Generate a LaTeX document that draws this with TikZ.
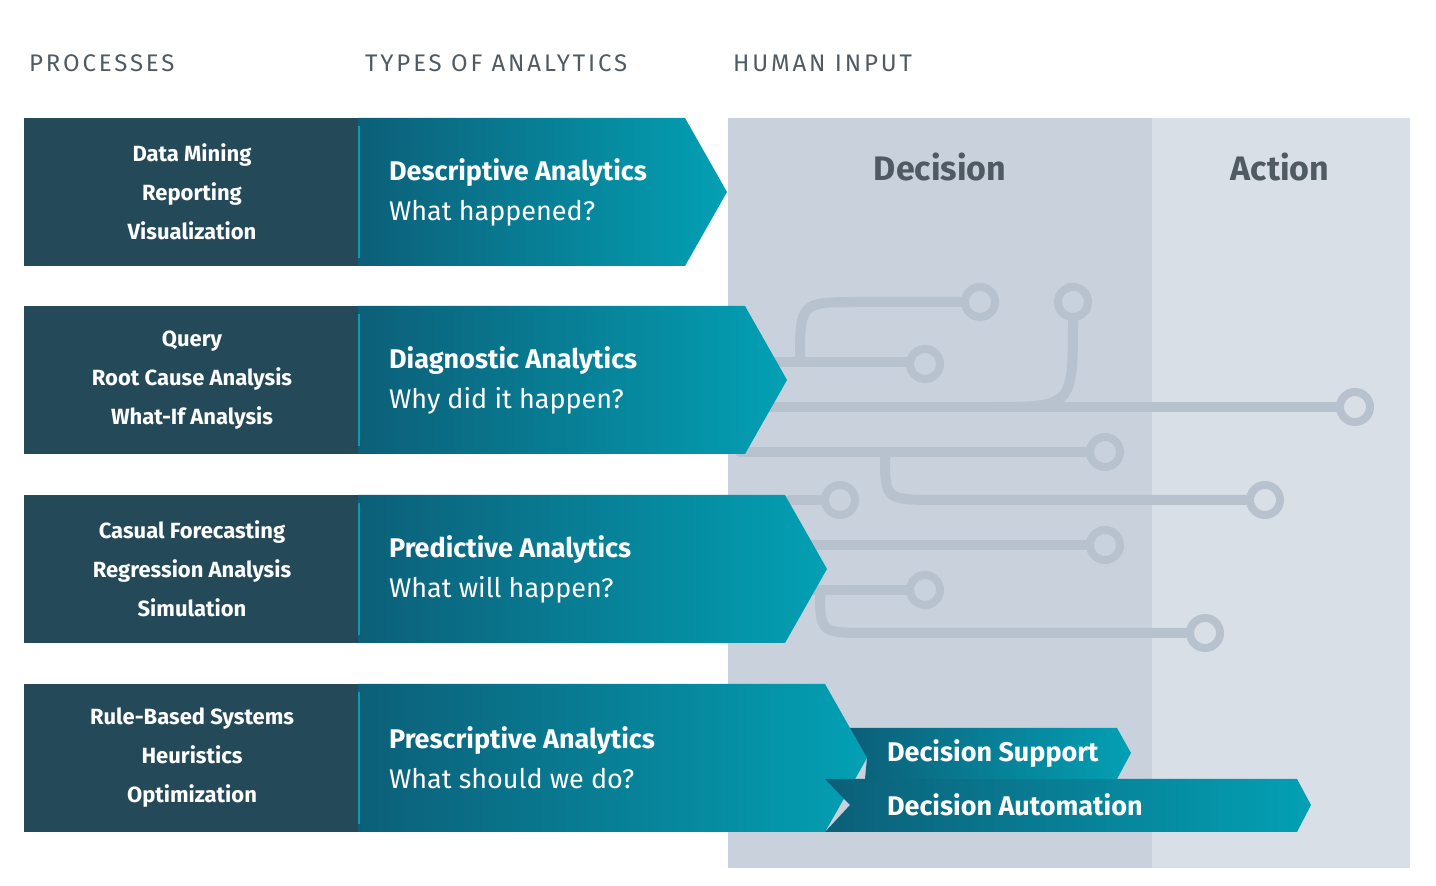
\documentclass[tikz,border=0pt]{standalone}
\usepackage{fontspec}
\setmainfont{Fira Sans}
\newfontfamily\headfont[LetterSpace=12]{Fira Sans}
\usetikzlibrary{positioning}
\definecolor{procbox}{HTML}{244A5A}
\definecolor{tealdark}{HTML}{0C5F78}
\definecolor{teallight}{HTML}{03A0B4}
\definecolor{decpanel}{HTML}{C8D1DC}
\definecolor{actpanel}{HTML}{D9DFE7}
\definecolor{circuit}{HTML}{B7C2CE}
\definecolor{headgray}{HTML}{4F5A63}
\tikzset{
  header/.style={anchor=west,text=headgray,font=\headfont\fontsize{12}{14}\selectfont},
  paneltitle/.style={text=headgray,font=\bfseries\fontsize{17}{20}\selectfont},
  proctext/.style={text=white,align=center,font=\bfseries\fontsize{11}{19.5}\selectfont},
  antext/.style={anchor=west,text=white,align=left,font=\fontsize{13.5}{20}\selectfont},
  wire/.style={circuit,line width=5pt,line cap=round},
  pin/.style={draw=circuit,line width=4pt,circle,minimum size=15pt,inner sep=0pt}
}
\begin{document}
\begin{tikzpicture}[x=0.5pt,y=-0.5pt]
\useasboundingbox (0,0) rectangle (1436,886);
% headers
\node[header] (hproc) at (22,63) {PROCESSES};
\node[header] (htype) at (358,63) {TYPES OF ANALYTICS};
\node[header] (hhum) at (726,63) {HUMAN INPUT};
% panels
\fill[decpanel] (728,118) rectangle (1152,868);
\fill[actpanel] (1152,118) rectangle (1410,868);
\node[paneltitle] (dec) at (940,167) {Decision};
\node[paneltitle] (act) at (1280,167) {Action};
% circuit traces
\draw[wire] (800,362) .. controls (800,302) .. (860,302) -- (964,302);
\node[pin] (p1) at (980,302) {};
\draw[wire] (770,362) -- (909,362);
\node[pin] (p2) at (925,364) {};
\node[pin] (p3) at (1073,302) {};
\draw[wire] (1073,318) .. controls (1073,407) .. (990,407);
\draw[wire] (740,407) -- (1339,407);
\node[pin] (p4) at (1355,407) {};
\draw[wire] (740,452) -- (1089,452);
\node[pin] (p5) at (1105,452) {};
\draw[wire] (885,455) .. controls (885,500) .. (940,500) -- (1249,500);
\node[pin] (p6) at (1265,500) {};
\draw[wire] (790,500) -- (824,500);
\node[pin] (p7) at (840,500) {};
\draw[wire] (800,545) -- (1089,545);
\node[pin] (p8) at (1105,545) {};
\draw[wire] (800,590) -- (909,590);
\node[pin] (p9) at (925,590) {};
\draw[wire] (820,590) .. controls (820,633) .. (870,633) -- (1189,633);
\node[pin] (p10) at (1205,633) {};
% rows
\foreach \y/\tx/\ttl/\sub/\procs [count=\i] in {
  118/685/Descriptive Analytics/What happened?/{Data Mining\\Reporting\\Visualization},
  306/745/Diagnostic Analytics/Why did it happen?/{Query\\Root Cause Analysis\\What-If Analysis},
  495/785/Predictive Analytics/What will happen?/{Casual Forecasting\\Regression Analysis\\Simulation},
  684/825/Prescriptive Analytics/What should we do?/{Rule-Based Systems\\Heuristics\\Optimization}}{
  \fill[procbox] (24,\y) rectangle (358,\y+148);
  \shade[left color=tealdark,right color=teallight]
    (358,\y) -- (\tx,\y) -- (\tx+42,\y+74) -- (\tx,\y+148) -- (358,\y+148) -- cycle;
  \draw[teallight,line width=1pt] (359,\y+8) -- (359,\y+140);
  \node[proctext] (proc\i) at (192,\y+74) {\procs};
  \node[antext] (an\i) at (382,\y+74) {\textbf{\ttl}\\\sub};
}
% decision arrows
\shade[left color=tealdark,right color=teallight]
  (825,779) -- (1297,779) -- (1311,805) -- (1297,832) -- (825,832) -- (850,805) -- cycle;
\shade[left color=tealdark,right color=teallight]
  (850,728) -- (1117,728) -- (1131,753) -- (1117,779) -- (865,779) -- (867,758) -- cycle;
\node[anchor=west,text=white,font=\bfseries\fontsize{13.5}{16}\selectfont] (dsup) at (880,754) {Decision Support};
\node[anchor=west,text=white,font=\bfseries\fontsize{13.5}{16}\selectfont] (daut) at (880,805) {Decision Automation};
\end{tikzpicture}
\end{document}
